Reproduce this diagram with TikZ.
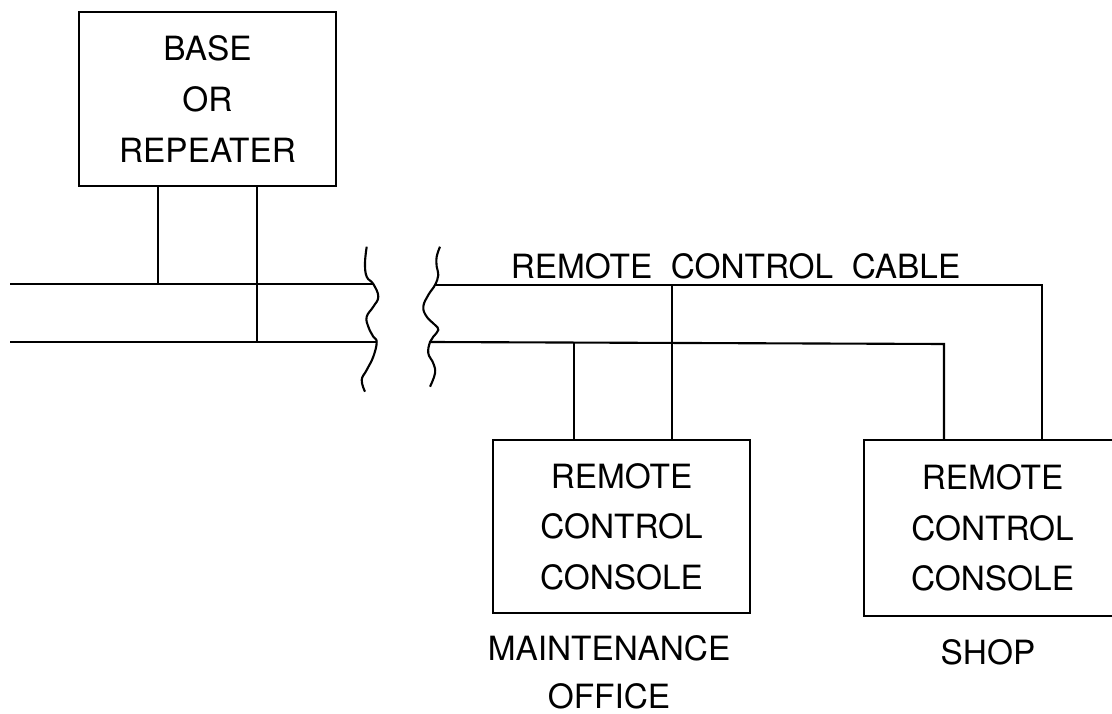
\documentclass[tikz,border=0pt]{standalone}
\usepackage{fontspec}
\setmainfont{TeX Gyre Heros}
\usetikzlibrary{positioning}
\tikzset{
  unit/.style={draw, line width=0.6pt, minimum width=2.57cm, align=center, inner sep=0pt,
    font=\fontsize{9.5}{14.4}\selectfont},
  wire/.style={line width=0.6pt},
  tag/.style={align=center, inner sep=0pt, font=\fontsize{9.5}{13.6}\selectfont}
}
\begin{document}
\begin{tikzpicture}
    	\useasboundingbox (0,0) rectangle (11.12,7.13);
    	% boxes
    	\node[unit, minimum height=1.74cm] (base) at (2.075,6.14) {BASE\\OR\\REPEATER};
    	\node[unit, minimum height=1.73cm] (office) at (6.215,1.865) {REMOTE\\CONTROL\\CONSOLE};
    	\node[unit, minimum height=1.76cm] (shop) at (9.925,1.85) {REMOTE\\CONTROL\\CONSOLE};
    	\node[tag] (officetag) at (6.09,0.41) {MAINTENANCE\\OFFICE};
    	\node[tag] (shoptag) at (9.88,0.61) {SHOP};
    	\node[tag] (cable) at (7.355,4.47) {REMOTE \ CONTROL \ CABLE};
    	% cable ends at the break
    	\coordinate (lt) at (3.733,4.29);
    	\coordinate (lb) at (3.767,3.71);
    	\coordinate (rt) at (4.35,4.28);
    	\coordinate (rb) at (4.30,3.71);
    	\coordinate (ct) at (10.42,4.28);
    	\coordinate (cb) at (9.44,3.69);
    	\draw[wire] (0.10,4.29) -- (lt);
    	\draw[wire] (0.10,3.71) -- (lb);
    	\draw[wire] (rt) -- (ct) -- (ct |- shop.north);
    	\draw[wire] (rb) -- (cb) -- (cb |- shop.north);
    	% drops
    	\draw[wire] (base.south -| 1.58,0) -- (1.58,4.29);
    	\draw[wire] (base.south -| 2.57,0) -- (2.57,3.71);
    	\draw[wire] (6.72,4.28) -- (office.north -| 6.72,0);
    	\draw[wire] (5.74,3.70) -- (office.north -| 5.74,0);
    	% break marks
    	\draw[wire] plot[smooth, tension=0.7] coordinates {(3.667,4.663) (3.65,4.497) (3.667,4.363) (lt) (3.783,4.163) (3.733,4.063) (3.667,3.963) (3.683,3.863) (3.733,3.763) (lb) (3.733,3.563) (3.667,3.43) (3.617,3.33) (3.65,3.213)};
    	\draw[wire] plot[smooth, tension=0.7] coordinates {(4.40,4.663) (4.367,4.563) (4.367,4.463) (4.383,4.38) (rt) (4.283,4.18) (4.233,4.063) (4.267,3.963) (4.35,3.88) (4.383,3.83) (4.333,3.763) (rb) (4.283,3.597) (4.333,3.497) (4.35,3.397) (4.30,3.263)};
\end{tikzpicture}
\end{document}
